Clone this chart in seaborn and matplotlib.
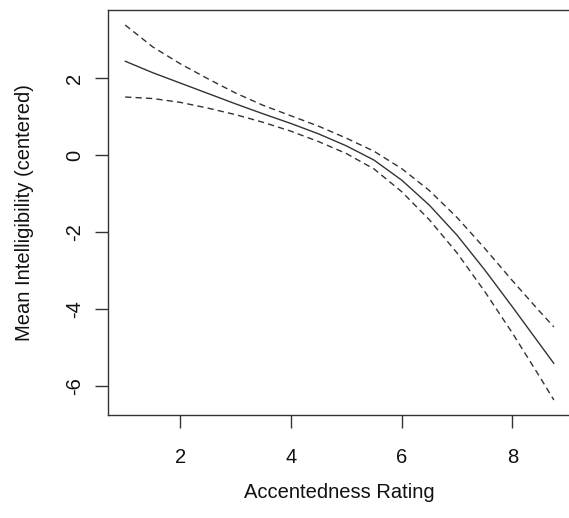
import numpy as np
import pandas as pd
import matplotlib
matplotlib.use("Agg")
import matplotlib.pyplot as plt
import seaborn as sns

# ---- data ----
accentedness = [1.0, 1.5, 2.0, 2.5, 3.0, 3.5, 4.0, 4.5, 5.0, 5.5, 6.0, 6.5, 7.0, 7.5, 8.0, 8.5, 8.75]
fit = [2.44, 2.14, 1.87, 1.60, 1.33, 1.07, 0.82, 0.55, 0.24, -0.13, -0.65, -1.30, -2.08, -2.98, -3.94, -4.92, -5.41]
upper = [3.38, 2.81, 2.37, 1.98, 1.61, 1.29, 1.02, 0.75, 0.44, 0.10, -0.35, -0.92, -1.62, -2.42, -3.26, -4.07, -4.46]
lower = [1.51, 1.47, 1.37, 1.22, 1.05, 0.85, 0.62, 0.35, 0.04, -0.36, -0.95, -1.68, -2.54, -3.54, -4.62, -5.77, -6.36]
x_ticks = [2, 4, 6, 8]
y_ticks = [-6, -4, -2, 0, 2]
x_label = "Accentedness Rating"
y_label = "Mean Intelligibility (centered)"

df = pd.DataFrame({"x": accentedness, "fit": fit, "upper": upper, "lower": lower})

sns.set_style("ticks")
plt.rcParams["font.family"] = ["Liberation Sans", "DejaVu Sans"]

W, H = 569, 518
fig = plt.figure(figsize=(W / 100, H / 100), dpi=100)
ax = fig.add_axes([108 / W, 1 - 415 / H, 463 / W, 405 / H])

ink = "#333333"
sns.lineplot(data=df, x="x", y="fit", ax=ax, color=ink, linewidth=1.0)
sns.lineplot(data=df, x="x", y="upper", ax=ax, color=ink, linewidth=1.0,
             linestyle=(0, (4.5, 3)))
sns.lineplot(data=df, x="x", y="lower", ax=ax, color=ink, linewidth=1.0,
             linestyle=(0, (4.5, 3)))

# R-style 4% padding
xr = max(accentedness) - min(accentedness)
ymin = min(lower); ymax = max(upper); yr = ymax - ymin
ax.set_xlim(min(accentedness) - 0.04 * xr, max(accentedness) + 0.04 * xr)
ax.set_ylim(ymin - 0.04 * yr, ymax + 0.04 * yr)

ax.set_xticks(x_ticks)
ax.set_yticks(y_ticks)
ax.set_xticklabels([str(t) for t in x_ticks])
ax.set_yticklabels([str(t) for t in y_ticks])

for s in ax.spines.values():
    s.set_color(ink)
    s.set_linewidth(1.0)

ax.tick_params(axis="both", direction="out", length=9.3, width=1.0, color=ink,
               labelsize=14.5, labelcolor="#111111")
ax.tick_params(axis="x", pad=14.5)
ax.tick_params(axis="y", pad=8.0, labelrotation=90)
for lbl in ax.get_yticklabels():
    lbl.set_va("center")

ax.set_xlabel(x_label, fontsize=14.5, color="#111111")
ax.set_ylabel(y_label, fontsize=14.5, color="#111111")
ax.xaxis.set_label_coords(0.5, -(482.5 - 415) / 405)
ax.yaxis.set_label_coords(-(108 - 34) / 463, 0.5)

fig.savefig("out.png", dpi=100)
